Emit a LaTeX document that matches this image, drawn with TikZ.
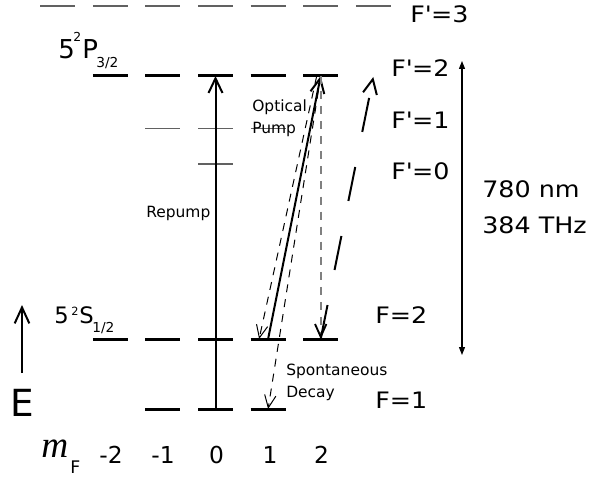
\documentclass[tikz,border=0pt]{standalone}
\usepackage{fontspec}
\setmainfont{DejaVu Sans}
\newfontfamily\widefont{DejaVu Sans}[FakeStretch=1.12]
\newfontfamily\mfont{Liberation Serif}
\usetikzlibrary{arrows.meta,calc}
\newcommand{\fsz}[1]{\fontsize{#1}{#1}\selectfont}
\newcommand{\pr}{\textquotesingle}
\tikzset{
  thicklev/.style={line width=2.25pt, black},
  thinlev/.style={line width=0.85pt, black!62},
  txt/.style={inner sep=0pt, anchor=base west},
  flab/.style={txt, font=\widefont\fsz{17pt}},
  numlab/.style={inner sep=0pt, anchor=base, font=\fsz{17.5pt}},
  small/.style={txt, font=\fsz{11.6pt}},
  openhead/.style={-{Straight Barb[length=11pt,width=10.5pt]}},
  thinhead/.style={-{Straight Barb[length=9.5pt,width=8.5pt,color=black]}},
  repumpline/.style={line width=1.5pt, openhead},
  pumpline/.style={line width=1.5pt, openhead},
  decayline/.style={line width=0.75pt, dash pattern=on 6pt off 5.3pt, thinhead},
  greydecay/.style={line width=1.4pt, black!50, dash pattern=on 6pt off 5.3pt, thinhead},
  longdash/.style={line width=1.5pt, dash pattern=on 26pt off 26.8pt, openhead},
}
\begin{document}
\begin{tikzpicture}[x=0.75pt,y=-0.75pt]
\path[use as bounding box] (0,0) rectangle (589,478);

% level coordinates (columns 1..5 = mF -2..2)
\foreach \k in {1,...,5} {
  \coordinate (P2c\k) at ({215.5+52.6*(\k-3)},76);
  \coordinate (S2c\k) at ({215.5+52.6*(\k-3)},339);
}
\foreach \k in {2,3,4} {
  \coordinate (S1c\k) at ({215.5+52.6*(\k-3)},409);
}
\coordinate (Ptop3) at (373.3,77);

% F'=3 (mF -3..3)
\foreach \k in {-3,...,3}
  \draw[thinlev] ({215.5+52.6*\k-17.5},6) -- ++(35,0);
% F'=2
\foreach \k in {1,...,5}
  \draw[thicklev] ($(P2c\k)+(-17.5,0)$) -- ++(35,0);
% F'=1
\foreach \k in {-1,0,1}
  \draw[thinlev] ({215.5+52.6*\k-17.5},128.5) -- ++(35,0);
% F'=0
\draw[thinlev] (198,164) -- ++(35,0);
% F=2
\foreach \k in {1,...,5}
  \draw[thicklev] ($(S2c\k)+(-17.5,0)$) -- ++(35,0);
% F=1
\foreach \k in {2,3,4}
  \draw[thicklev] ($(S1c\k)+(-17.5,0)$) -- ++(35,0);

% transitions
\draw[repumpline] (S1c3) -- (P2c3);
\draw[pumpline] (S2c4) -- (P2c5);
\draw[decayline] ($(P2c5)+(-4,0)$) -- ($(S2c4)+(-9,0)$);
\draw[decayline] (P2c5) -- (S1c4);
\draw[greydecay] (P2c5) -- (S2c5);
\draw[longdash] (S2c5) -- (Ptop3);

% frequency arrow
\coordinate (fTop) at (462,61);
\coordinate (fBot) at (462,355);
\draw[line width=0.9pt, {Triangle[length=6pt,width=4.5pt]}-{Triangle[length=6pt,width=4.5pt]}] (fTop) -- (fBot);
\node[flab] (nm) at (482,197) {780 nm};
\node[flab] (thz) at (482,233) {384 THz};

% energy arrow
\coordinate (Ebot) at (22,373);
\coordinate (Etop) at (22,305);
\draw[line width=1.5pt, -{Straight Barb[length=12pt,width=11pt]}] (Ebot) -- (Etop);
\node[inner sep=0pt, anchor=base, font=\fsz{28pt}] (E) at (22,416) {E};

% state labels
\node[txt, font=\fsz{19.5pt}] (p5) at (58,59) {5};
\node[txt, font=\fsz{9.3pt}] (p2) at (73,42) {2};
\node[txt, font=\fsz{19.5pt}] (pP) at (82,59) {P};
\node[txt, font=\fsz{10.3pt}] (p32) at (96,68) {3/2};

\node[txt, font=\fsz{17pt}] (s5) at (54,323) {5};
\node[txt, font=\fsz{8.5pt}] (s2) at (71,315) {2};
\node[txt, font=\fsz{17pt}] (sS) at (79,323) {S};
\node[txt, font=\fsz{10.3pt}] (s12) at (92,332) {1/2};

% hyperfine labels
\node[flab] (l3) at (410,23) {F\pr=3};
\node[flab] (l2) at (391,77) {F\pr=2};
\node[flab] (l1) at (391,128) {F\pr=1};
\node[flab] (l0) at (391,179.5) {F\pr=0};
\node[flab] (g2) at (375,323) {F=2};
\node[flab] (g1) at (375,408) {F=1};

% small labels
\node[small] (op1) at (252,112) {Optical};
\node[small] (op2) at (252,133) {Pump};
\node[small] (rp) at (146,217) {Repump};
\node[small] (sp1) at (286,375) {Spontaneous};
\node[small] (sp2) at (286,397) {Decay};

% mF axis
\node[txt, font=\mfont\itshape\fsz{28pt}] (m) at (41,457) {m};
\node[txt, font=\fsz{13pt}] (mF) at (70,473) {F};
\node[numlab] (n1) at (111,463) {-2};
\node[numlab] (n2) at (163,463) {-1};
\node[numlab] (n3) at (216.5,463) {0};
\node[numlab] (n4) at (270,463) {1};
\node[numlab] (n5) at (321.5,463) {2};
\end{tikzpicture}
\end{document}
